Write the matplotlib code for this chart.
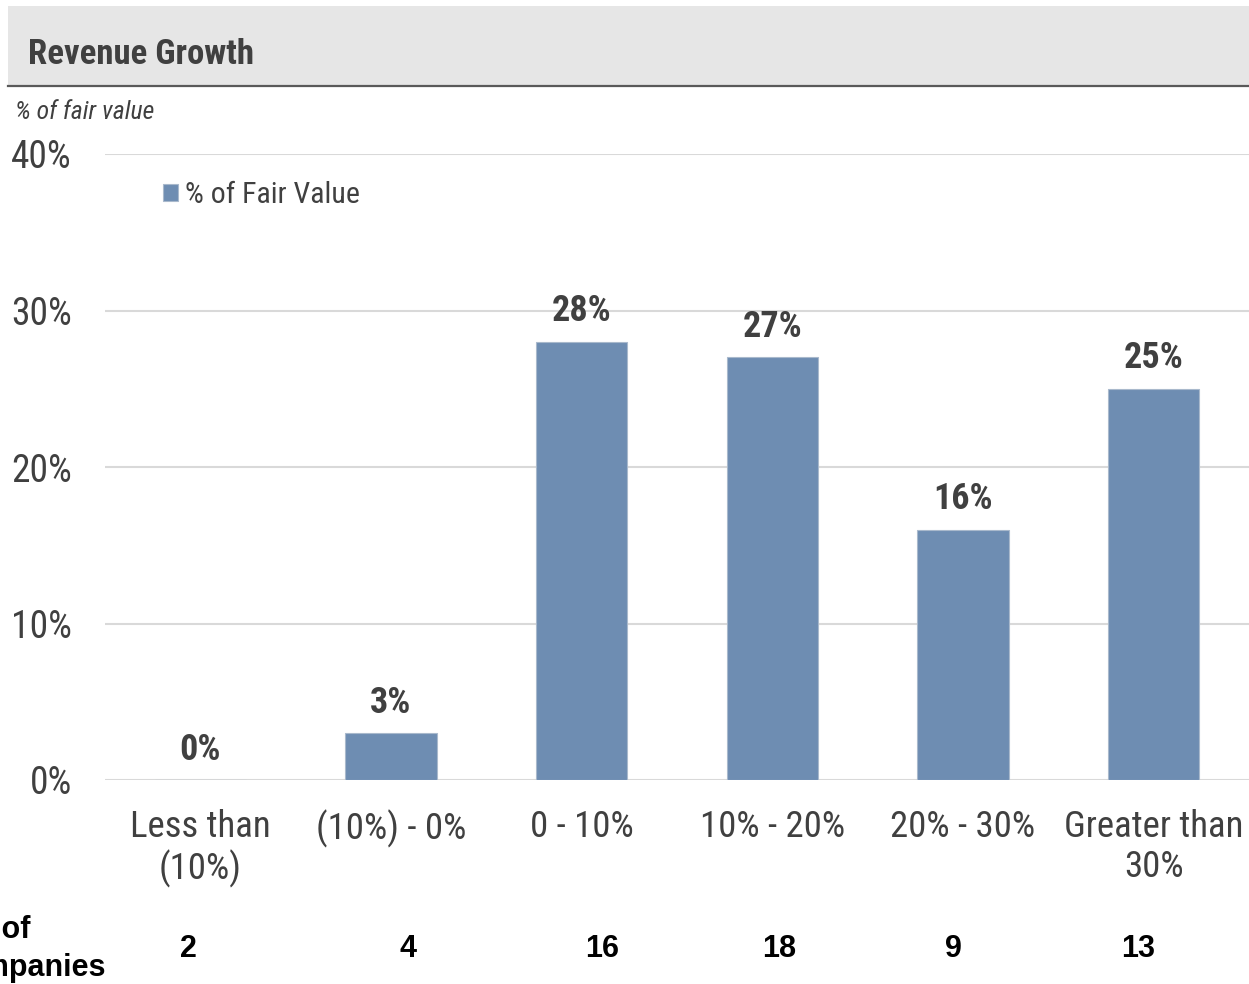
import matplotlib
matplotlib.use("Agg")
import matplotlib.pyplot as plt
import matplotlib.transforms as mtransforms
from matplotlib.patches import Rectangle
from matplotlib.lines import Line2D

categories = ["Less than\n(10%)", "(10%) - 0%", "0 - 10%", "10% - 20%", "20% - 30%", "Greater than\n30%"]
fair_value_pct = [0, 3, 28, 27, 16, 25]
company_counts = [2, 4, 16, 18, 9, 13]
y_ticks = [0, 10, 20, 30, 40]
y_tick_labels = ["0%", "10%", "20%", "30%", "40%"]

# layout-only offsets of the count row relative to bar centres (in category units)
count_offsets = [-0.06, 0.09, 0.106, 0.036, -0.05, -0.084]

NARROW = ["Roboto Condensed", "DejaVu Sans"]
REG = ["Liberation Sans", "DejaVu Sans"]
TXT = "#404040"
BAR = "#6E8DB2"

W, H = 1249, 984
fig = plt.figure(figsize=(W / 100, H / 100), dpi=100)

# header band
fig.patches.append(Rectangle((8 / W, 1 - 86 / H), 1 - 8 / W, 80 / H, transform=fig.transFigure,
                             facecolor="#E6E6E6", edgecolor="none", zorder=0))
fig.lines.append(Line2D([8 / W, 1], [1 - 86 / H, 1 - 86 / H], transform=fig.transFigure,
                        color="#595959", linewidth=1.6))
fig.text(28 / W, 1 - 55 / H, "Revenue Growth", family=NARROW, fontweight="bold",
         fontsize=25, color=TXT, ha="left", va="center")
fig.text(15 / W, 1 - 112 / H, "% of fair value", family=NARROW, style="italic",
         fontsize=18.5, color=TXT, ha="left", va="center")

ax = fig.add_axes([105 / W, 1 - 780 / H, 1 - 105 / W, (780 - 154) / H])
x = list(range(len(categories)))
ax.bar(x, fair_value_pct, width=0.48, color=BAR, edgecolor="#A9B9CC", linewidth=0.8,
       label="% of Fair Value", zorder=3)
ax.set_xlim(-0.5, 5.5)
ax.set_ylim(0, 40)
ax.set_yticks(y_ticks)
ax.set_yticklabels(y_tick_labels)
ax.set_xticks(x)
ax.set_xticklabels(categories)
for s in ax.spines.values():
    s.set_visible(False)
ax.grid(axis="y", color="#D9D9D9", linewidth=1.5, zorder=0)
ax.set_axisbelow(True)
ax.tick_params(axis="y", length=0, pad=24, labelsize=27, labelcolor=TXT)
ax.tick_params(axis="x", length=0, pad=21, labelsize=26.5, labelcolor=TXT)
for lab in ax.get_yticklabels() + ax.get_xticklabels():
    lab.set_family(NARROW)
for lab in ax.get_xticklabels():
    lab.set_linespacing(1.15)

for xi, v in zip(x, fair_value_pct):
    ax.annotate(f"{v}%", (xi, v), xytext=(0, 9), textcoords="offset points", ha="center",
                va="bottom", family=NARROW, fontweight="bold", fontsize=26, color=TXT)

leg = ax.legend(loc="center left", bbox_to_anchor=(163 / W, 1 - 195 / H),
                bbox_transform=fig.transFigure, frameon=False, borderpad=0, borderaxespad=0,
                handlelength=0.5, handleheight=0.5, handletextpad=0.25,
                prop={"family": NARROW, "size": 21.5})
for t in leg.get_texts():
    t.set_color(TXT)

# count row
blend = mtransforms.blended_transform_factory(ax.transData, fig.transFigure)
for xi, c, off in zip(x, company_counts, count_offsets):
    ax.text(xi + off, 1 - 949 / H, str(c), transform=blend, ha="center", va="center",
            family=REG, fontweight="bold", fontsize=22, color="black")
fig.text(30 / W, 1 - 930 / H, "# of", family=REG, fontweight="bold", fontsize=22,
         color="black", ha="right", va="center")
fig.text(106 / W, 1 - 968 / H, "Companies", family=REG, fontweight="bold", fontsize=22,
         color="black", ha="right", va="center")

fig.savefig("out.png", dpi=100, facecolor="white")
